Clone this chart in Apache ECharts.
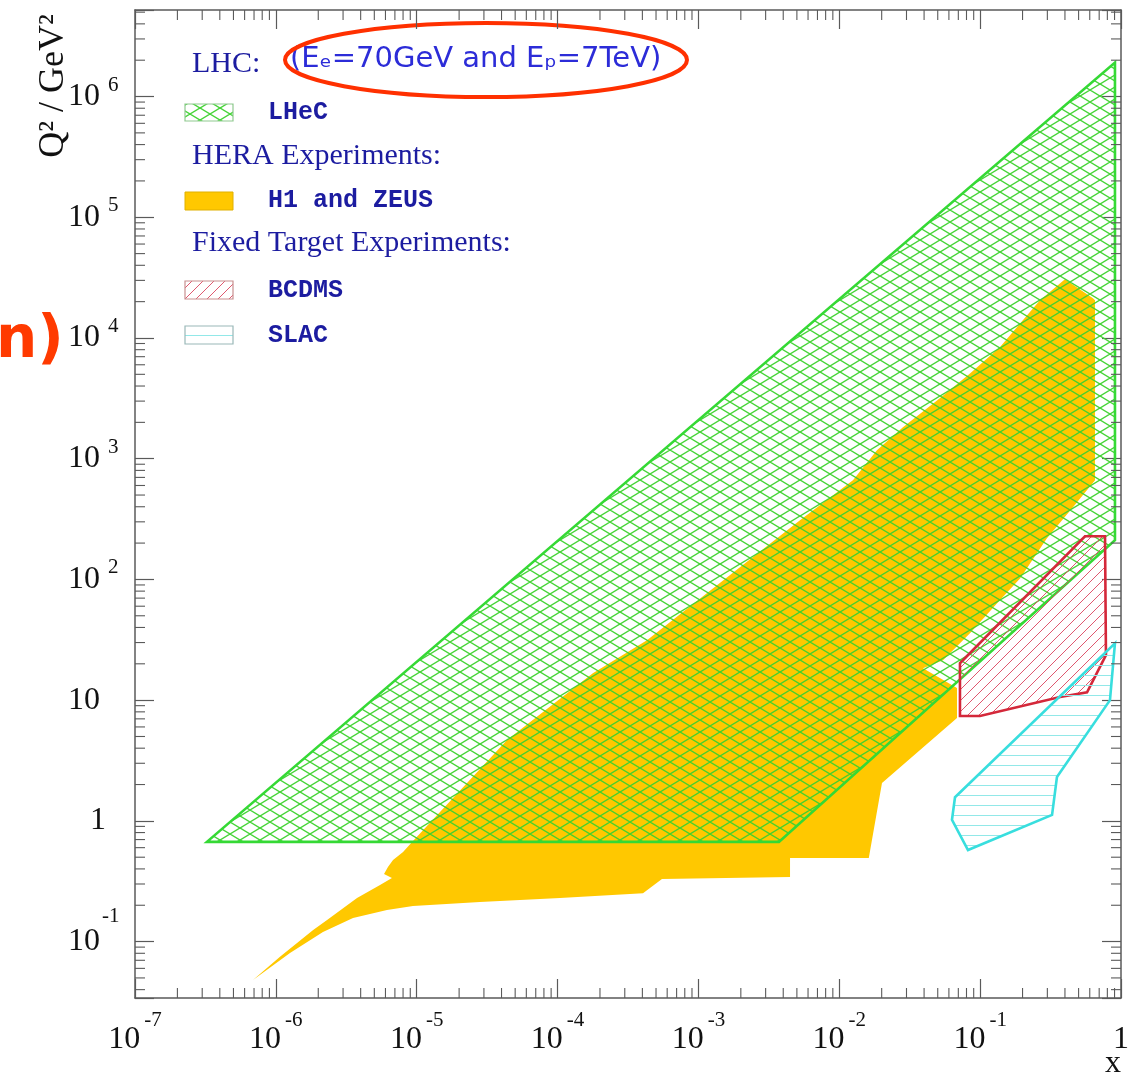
<!DOCTYPE html>
<html><head><meta charset="utf-8">
<script src="https://cdn.jsdelivr.net/npm/echarts@6/dist/echarts.min.js"></script>
<style>html,body{margin:0;padding:0;background:#fff}#c{width:1139px;height:1078px}</style>
</head><body><div id="c"></div>
<script>
// ---- axis ranges ----
const X_MIN = 1e-7, X_MAX = 1;
const Y_MIN = 0.0341, Y_MAX = 5.21e6;
const X_DECADES = [-7, -6, -5, -4, -3, -2, -1, 0];
const Y_DECADES = [-1, 0, 1, 2, 3, 4, 5, 6];
const MINOR_MULT = [2, 3, 4, 5, 6, 7, 8, 9];

// ---- regions [x, Q^2 (GeV^2)] ----
const LHEC = [[3.24e-7, 0.67], [3.73e-3, 0.67], [0.906, 211], [0.906, 1.91e6]];
const H1_ZEUS = [
  [6.88e-7, 0.048], [1.07e-6, 0.075], [1.84e-6, 0.125], [2.31e-6, 0.151], [3.77e-6, 0.230],
  [5.49e-6, 0.294], [6.67e-6, 0.336], [5.86e-6, 0.363], [6.25e-6, 0.415], [6.79e-6, 0.473],
  [8.0e-6, 0.552], [9.41e-6, 0.681], [4.38e-5, 4.67], [1.78e-4, 16.7], [4.31e-4, 31.4],
  [1.60e-3, 104], [5.26e-3, 309], [1.25e-2, 662], [1.85e-2, 1175], [2.83e-2, 1820],
  [4.94e-2, 3040], [8.47e-2, 5090], [0.138, 8360], [0.201, 14000], [0.266, 20500],
  [0.400, 30600], [0.632, 21300], [0.654, 20500], [0.654, 662], [0.456, 396],
  [0.298, 219], [0.192, 102], [0.138, 67.3], [8.47e-2, 35.9], [5.45e-2, 21.4],
  [3.93e-2, 18.4], [6.85e-2, 12.6], [6.85e-2, 7.10], [2.01e-2, 2.06], [1.62e-2, 0.492],
  [4.47e-3, 0.492], [4.47e-3, 0.343], [5.51e-4, 0.330], [4.04e-4, 0.252], [1.04e-4, 0.230],
  [2.81e-5, 0.213], [9.41e-6, 0.197], [6.15e-6, 0.183], [3.53e-6, 0.157], [2.16e-6, 0.120],
  [1.26e-6, 0.0805]
];
const BCDMS = [[0.0719, 20.2], [0.555, 228], [0.770, 228], [0.782, 23.6], [0.574, 11.6],
  [0.369, 10.6], [0.0997, 7.4], [0.0719, 7.4]];
const SLAC = [[0.0663, 1.57], [0.906, 29.6], [0.835, 10.0], [0.351, 2.31], [0.324, 1.12],
  [0.082, 0.573], [0.0631, 1.02]];

// ---- texts ----
const HEADER_LHC = 'LHC:';
const HEADER_BEAM = '(Eₑ=70GeV and Eₚ=7TeV)';
const HEADER_HERA = 'HERA Experiments:';
const HEADER_FIXED = 'Fixed Target Experiments:';
const LEGEND_LABELS = ['LHeC', 'H1 and ZEUS', 'BCDMS', 'SLAC'];
const Y_TITLE = 'Q² / GeV²';
const X_TITLE = 'x';

// ---- patterns ----
function tile(w, h, draw) {
  const c = document.createElement('canvas'); c.width = w; c.height = h;
  draw(c.getContext('2d'), w, h); return c;
}
const crossTile = tile(20, 12, (g, w, h) => {
  g.strokeStyle = 'rgba(60,210,45,0.95)'; g.lineWidth = 1.4;
  for (const dx of [-w, 0, w]) for (const dy of [-h, 0, h]) {
    g.beginPath(); g.moveTo(dx, dy); g.lineTo(dx + w, dy + h);
    g.moveTo(dx, dy + h); g.lineTo(dx + w, dy); g.stroke();
  }
});
const redTile = tile(11, 11, (g, w, h) => {
  g.strokeStyle = 'rgba(220,70,95,0.9)'; g.lineWidth = 1;
  for (const dx of [-w, 0, w]) { g.beginPath(); g.moveTo(dx, h); g.lineTo(dx + w, 0); g.stroke(); }
});
const cyanTile = tile(10, 10, (g, w, h) => {
  g.fillStyle = '#92e8e8';
  g.fillRect(0, 5, w, 1);
});
const pat = (c) => ({ image: c, repeat: 'repeat' });

const YELLOW = '#ffc800', GREEN = '#35d935', RED = '#d4283a', CYAN = '#38dede';
const NAVY = '#1c1ca0';
const SERIF = '"Liberation Serif", "DejaVu Serif", serif';
const MONO = '"Liberation Mono", "DejaVu Sans Mono", monospace';

function poly(name, pts, style, z) {
  return {
    type: 'custom', name, coordinateSystem: 'cartesian2d', data: [pts[0]], z, silent: true,
    renderItem: (params, api) => ({
      type: 'polygon', shape: { points: pts.map(p => api.coord(p)) }, style: Object.assign({}, style)
    })
  };
}

const minorTicks = {
  type: 'custom', coordinateSystem: 'cartesian2d', data: [[1e-3, 1]], z: 20, silent: true,
  renderItem: (params, api) => {
    const cs = params.coordSys; const ch = [];
    const st = { stroke: '#5a5a5a', lineWidth: 1.1 };
    X_DECADES.slice(0, -1).forEach(e => MINOR_MULT.forEach(m => {
      const px = api.coord([m * Math.pow(10, e), 1])[0];
      ch.push({ type: 'line', shape: { x1: px, y1: cs.y + cs.height, x2: px, y2: cs.y + cs.height - 10 }, style: st });
      ch.push({ type: 'line', shape: { x1: px, y1: cs.y, x2: px, y2: cs.y + 10 }, style: st });
    }));
    [-2].concat(Y_DECADES).forEach(e => MINOR_MULT.forEach(m => {
      const v = m * Math.pow(10, e);
      if (v <= Y_MIN || v >= Y_MAX) return;
      const py = api.coord([1e-3, v])[1];
      ch.push({ type: 'line', shape: { x1: cs.x, y1: py, x2: cs.x + 10, y2: py }, style: st });
      ch.push({ type: 'line', shape: { x1: cs.x + cs.width, y1: py, x2: cs.x + cs.width - 10, y2: py }, style: st });
    }));
    return { type: 'group', children: ch };
  }
};

function expOf(v) { const l = Math.log10(v); const r = Math.round(l); return Math.abs(l - r) < 1e-6 ? r : null; }

const baseTxt = { fontFamily: SERIF, color: '#111' };
const xRich = {
  b: Object.assign({ fontSize: 32, lineHeight: 32, verticalAlign: 'bottom' }, baseTxt),
  e: Object.assign({ fontSize: 21, lineHeight: 21, verticalAlign: 'bottom', padding: [0, 0, 25, 4] }, baseTxt)
};
const yRich = {
  b: Object.assign({ fontSize: 32, lineHeight: 32, verticalAlign: 'bottom' }, baseTxt),
  one: Object.assign({ fontSize: 32, lineHeight: 32, verticalAlign: 'bottom', padding: [0, 0, 0, 22] }, baseTxt),
  e: Object.assign({ fontSize: 21, lineHeight: 21, verticalAlign: 'bottom', padding: [0, 0, 17, 8] }, baseTxt),
  en: Object.assign({ fontSize: 21, lineHeight: 21, verticalAlign: 'bottom', padding: [0, 0, 31, 2] }, baseTxt)
};

const axisCommon = {
  type: 'log', logBase: 10, splitNumber: 10,
  splitLine: { show: false }, minorTick: { show: false }, minorSplitLine: { show: false },
  axisLine: { show: true, onZero: false, lineStyle: { color: '#5a5a5a', width: 1.5 } },
  axisTick: { show: true, inside: true, length: 19, lineStyle: { color: '#5a5a5a', width: 1.2 } }
};

const chart = echarts.init(document.getElementById('c'), null, { renderer: 'canvas' });
chart.setOption({
  animation: false,
  backgroundColor: '#ffffff',
  grid: { left: 135, right: 18, top: 10, bottom: 80 },
  xAxis: [
    Object.assign({}, axisCommon, {
      position: 'bottom', min: X_MIN, max: X_MAX,
      axisLabel: {
        margin: 26, rich: xRich,
        formatter: v => { const e = expOf(v); if (e === null) return ''; if (e === 0) return '{b|1}'; return '{b|10}{e|' + e + '}'; }
      }
    }),
    Object.assign({}, axisCommon, { position: 'top', min: X_MIN, max: X_MAX, axisLabel: { show: false } })
  ],
  yAxis: [
    Object.assign({}, axisCommon, {
      position: 'left', min: Y_MIN, max: Y_MAX,
      axisLabel: {
        margin: 67, align: 'left', rich: yRich,
        formatter: v => {
          const e = expOf(v); if (e === null) return '';
          if (e === 0) return '{one|1}'; if (e === 1) return '{b|10}';
          if (e < 0) return '{b|10}{en|' + e + '}';
          return '{b|10}{e|' + e + '}';
        }
      }
    }),
    Object.assign({}, axisCommon, { position: 'right', min: Y_MIN, max: Y_MAX, axisLabel: { show: false } })
  ],
  series: [
    poly('H1 and ZEUS', H1_ZEUS, { fill: YELLOW, stroke: null }, 2),
    poly('LHeC', LHEC, { fill: pat(crossTile), stroke: GREEN, lineWidth: 2.6, lineJoin: 'miter' }, 3),
    poly('BCDMS', BCDMS, { fill: pat(redTile), stroke: RED, lineWidth: 2.6 }, 4),
    poly('SLAC', SLAC, { fill: pat(cyanTile), stroke: CYAN, lineWidth: 2.6 }, 5),
    minorTicks
  ],
  graphic: [
    { type: 'text', x: 54, y: 86, rotation: Math.PI / 2, style: { text: Y_TITLE, fontSize: 36, fontFamily: SERIF, fill: '#111', align: 'center', verticalAlign: 'middle' } },
    { type: 'text', x: 1113, y: 1064, style: { text: X_TITLE, fontSize: 32, fontFamily: SERIF, fill: '#111', align: 'center', verticalAlign: 'middle' } },
    { type: 'text', x: -4, y: 342, style: { text: 'n)', fontSize: 58, fontWeight: 'bold', fontFamily: '"DejaVu Sans", sans-serif', fill: '#ff3a00', align: 'left', verticalAlign: 'middle' } },
    { type: 'text', x: 192, y: 64, style: { text: HEADER_LHC, fontSize: 30, fontFamily: SERIF, fill: NAVY, align: 'left', verticalAlign: 'middle' } },
    { type: 'text', x: 290, y: 59, style: { text: HEADER_BEAM, fontSize: 29, fontFamily: '"DejaVu Sans", sans-serif', fill: '#2c2cd8', align: 'left', verticalAlign: 'middle' } },
    { type: 'ellipse', shape: { cx: 486, cy: 60, rx: 201, ry: 37 }, style: { fill: null, stroke: '#ff3000', lineWidth: 4 } },
    { type: 'text', x: 192, y: 156, style: { text: HEADER_HERA, fontSize: 30, fontFamily: SERIF, fill: NAVY, align: 'left', verticalAlign: 'middle' } },
    { type: 'text', x: 192, y: 243, style: { text: HEADER_FIXED, fontSize: 30, fontFamily: SERIF, fill: NAVY, align: 'left', verticalAlign: 'middle' } },
    { type: 'rect', shape: { x: 185, y: 104, width: 48, height: 17 }, style: { fill: pat(crossTile), stroke: '#8fc98f', lineWidth: 1.2 } },
    { type: 'rect', shape: { x: 185, y: 192, width: 48, height: 18 }, style: { fill: YELLOW, stroke: '#e0b000', lineWidth: 1 } },
    { type: 'rect', shape: { x: 185, y: 281, width: 48, height: 18 }, style: { fill: pat(redTile), stroke: '#c99090', lineWidth: 1.2 } },
    { type: 'rect', shape: { x: 185, y: 326, width: 48, height: 18 }, style: { fill: pat(cyanTile), stroke: '#9ab8b8', lineWidth: 1.2 } },
    { type: 'text', x: 268, y: 113, style: { text: LEGEND_LABELS[0], fontSize: 25, fontWeight: 'bold', fontFamily: MONO, fill: NAVY, align: 'left', verticalAlign: 'middle' } },
    { type: 'text', x: 268, y: 201, style: { text: LEGEND_LABELS[1], fontSize: 25, fontWeight: 'bold', fontFamily: MONO, fill: NAVY, align: 'left', verticalAlign: 'middle' } },
    { type: 'text', x: 268, y: 291, style: { text: LEGEND_LABELS[2], fontSize: 25, fontWeight: 'bold', fontFamily: MONO, fill: NAVY, align: 'left', verticalAlign: 'middle' } },
    { type: 'text', x: 268, y: 336, style: { text: LEGEND_LABELS[3], fontSize: 25, fontWeight: 'bold', fontFamily: MONO, fill: NAVY, align: 'left', verticalAlign: 'middle' } }
  ]
});
</script></body></html>
